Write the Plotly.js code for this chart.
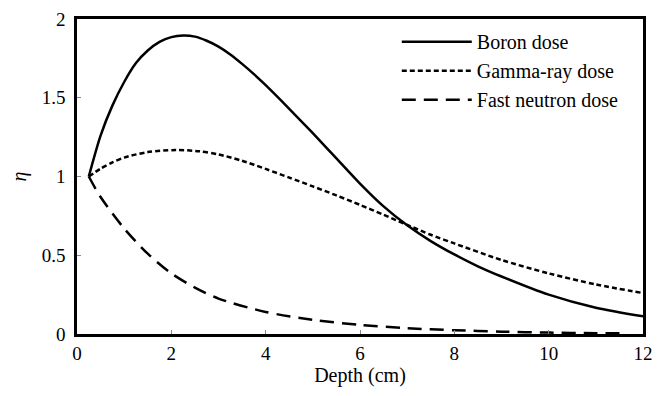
<!DOCTYPE html>
<html>
<head>
<meta charset="utf-8">
<script src="https://cdn.plot.ly/plotly-3.0.1.min.js"></script>
<style>html,body{margin:0;padding:0;background:#fff;}#chart{width:667px;height:396px;}</style>
</head>
<body>
<div id="chart"></div>
<script>
var seriesNames = ["Boron dose", "Gamma-ray dose", "Fast neutron dose"];

var boronX = [0.25, 0.5, 0.75, 1.0, 1.25, 1.5, 1.75, 2.0, 2.25, 2.5, 2.75, 3, 3.25, 3.5, 3.75, 4, 4.5, 5, 5.5, 6, 6.5, 7, 7.5, 8, 8.5, 9, 10, 11, 12];
var boronY = [1.0, 1.26, 1.45, 1.60, 1.72, 1.80, 1.855, 1.885, 1.895, 1.888, 1.862, 1.825, 1.775, 1.715, 1.65, 1.58, 1.43, 1.275, 1.115, 0.955, 0.81, 0.69, 0.59, 0.505, 0.43, 0.365, 0.25, 0.167, 0.112];

var gammaX = [0.25, 0.5, 0.75, 1.0, 1.5, 2.1, 2.6, 3, 3.5, 4, 4.5, 5, 5.5, 6, 6.5, 7, 7.5, 8, 9, 10, 11, 12];
var gammaY = [1.0, 1.05, 1.09, 1.12, 1.155, 1.168, 1.16, 1.14, 1.10, 1.048, 0.993, 0.937, 0.88, 0.82, 0.757, 0.693, 0.63, 0.575, 0.47, 0.385, 0.315, 0.26];

var fastX = [0.25, 0.5, 1, 1.5, 2, 2.5, 3, 4, 5, 6, 7, 8, 9, 10, 11, 11.6];
var fastY = [1.0, 0.87, 0.67, 0.51, 0.385, 0.295, 0.225, 0.14, 0.09, 0.058, 0.037, 0.024, 0.015, 0.009, 0.005, 0.004];

var xTicks = [0, 2, 4, 6, 8, 10, 12];
var yTicks = [0, 0.5, 1, 1.5, 2];
var yTickText = ["0", "0.5", "1", "1.5", "2"];

var fam = "'Liberation Serif', 'Times New Roman', serif";
var tickFont = {family: fam, size: 19, color: "#000"};
var legFont = {family: fam, size: 20, color: "#000"};

var traces = [
  {x: boronX, y: boronY, name: seriesNames[0], mode: "lines", line: {color: "#000", width: 2.5, shape: "spline", smoothing: 0.8}},
  {x: gammaX, y: gammaY, name: seriesNames[1], mode: "lines", line: {color: "#000", width: 2.5, dash: "5px,3px", shape: "spline", smoothing: 0.8}},
  {x: fastX, y: fastY, name: seriesNames[2], mode: "lines", line: {color: "#000", width: 2.5, dash: "14px,8px", shape: "spline", smoothing: 0.8}}
];

var layout = {
  width: 667, height: 396,
  margin: {l: 77, r: 24, t: 19, b: 62},
  paper_bgcolor: "#fff", plot_bgcolor: "#fff",
  font: tickFont,
  showlegend: true,
  legend: {x: 0.565, y: 0.99, xanchor: "left", yanchor: "top", bgcolor: "rgba(0,0,0,0)", borderwidth: 0, font: legFont, itemwidth: 70, tracegroupgap: 0},
  xaxis: {
    range: [0, 12], tickvals: xTicks, ticktext: xTicks.map(String),
    showgrid: false, zeroline: false, showline: true, mirror: true, linecolor: "#000", linewidth: 3,
    ticks: "inside", ticklen: 4, tickcolor: "#888", tickwidth: 1, tickfont: tickFont,
    title: {text: "Depth (cm)", font: legFont, standoff: 4}
  },
  yaxis: {
    range: [0, 2], tickvals: yTicks, ticktext: yTickText.map(function (t) { return t + "\u00a0"; }),
    showgrid: false, zeroline: false, showline: true, mirror: true, linecolor: "#000", linewidth: 3,
    ticks: "inside", ticklen: 4, tickcolor: "#888", tickwidth: 1, tickfont: tickFont,
    title: {text: "<i>η</i>", font: legFont, standoff: 10}
  }
};

Plotly.newPlot("chart", traces, layout, {displayModeBar: false, staticPlot: true});
</script>
</body>
</html>
